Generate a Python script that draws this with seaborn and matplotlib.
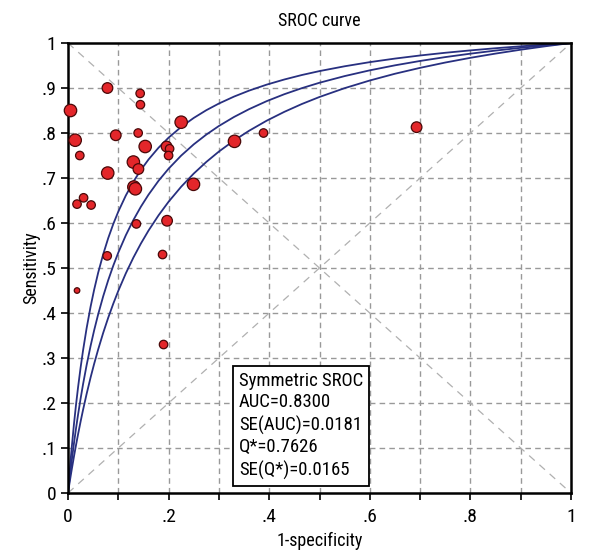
import numpy as np
import pandas as pd
import matplotlib
matplotlib.use('Agg')
import matplotlib.pyplot as plt
import seaborn as sns
from matplotlib import font_manager

# study points: 1-specificity, sensitivity, relative weight (marker size)
fpr = [0.005, 0.0785, 0.1435, 0.144, 0.0143, 0.095, 0.1395, 0.1535, 0.0235, 0.130,
       0.140, 0.079, 0.131, 0.134, 0.031, 0.225, 0.196, 0.202, 0.200, 0.2495,
       0.331, 0.3887, 0.693, 0.018, 0.046, 0.136, 0.078, 0.018, 0.197, 0.188, 0.190]
tpr = [0.850, 0.900, 0.888, 0.863, 0.784, 0.795, 0.800, 0.770, 0.750, 0.7355,
       0.720, 0.711, 0.680, 0.676, 0.656, 0.824, 0.770, 0.765, 0.750, 0.686,
       0.7815, 0.800, 0.813, 0.642, 0.640, 0.598, 0.527, 0.450, 0.605, 0.530, 0.330]
weight = [4, 3, 2, 2, 4, 3, 2, 4, 2, 4,
          3, 4, 4, 4, 2, 4, 3, 2, 2, 4,
          4, 2, 3, 2, 2, 2, 2, 1, 3, 2, 2]

# SROC curve and its bounds
curve_x = [0, .001, .003, .005, .007, .012, .016, .02, .025, .03, .037, .045, .052, .06,
           .07, .08, .09, .1, .115, .13, .145, .16, .18, .2, .225, .25, .275, .3, .33,
           .36, .395, .43, .465, .5, .55, .6, .65, .7, .75, .8, .85, .9, .95, 1]
curve_upper = [0, .0148, .0432, .0702, .0957, .1543, .1963, .2346, .2780, .3172, .3659,
               .4144, .4517, .4895, .5306, .5664, .5977, .6253, .6612, .6918, .7181,
               .7410, .7673, .7897, .8135, .8335, .8507, .8655, .8809, .8942, .9075,
               .9189, .9289, .9376, .9483, .9575, .9654, .9723, .9783, .9836, .9884,
               .9927, .9965, 1]
curve_mid = [0, .0102, .0301, .0493, .0678, .1114, .1437, .1740, .2092, .2420, .2839,
             .3272, .3615, .3971, .4372, .4730, .5051, .5342, .5728, .6066, .6364,
             .6628, .6938, .7207, .7498, .7748, .7965, .8156, .8356, .8530, .8708,
             .8862, .8997, .9117, .9265, .9393, .9504, .9601, .9687, .9763, .9832,
             .9893, .9949, 1]
curve_lower = [0, .0073, .0216, .0356, .0492, .0819, .1066, .1303, .1584, .1850, .2200,
               .2570, .2870, .3190, .3559, .3896, .4206, .4492, .4882, .5231, .5545,
               .5830, .6170, .6473, .6806, .7099, .7357, .7588, .7833, .8050, .8274,
               .8470, .8645, .8801, .8997, .9167, .9317, .9448, .9566, .9671, .9765,
               .9851, .9929, 1]

stats_text = ['Symmetric SROC', 'AUC=0.8300', 'SE(AUC)=0.0181', 'Q*=0.7626', 'SE(Q*)=0.0165']
y_ticks = [0, .1, .2, .3, .4, .5, .6, .7, .8, .9, 1]
y_labels = ['0', '.1', '.2', '.3', '.4', '.5', '.6', '.7', '.8', '.9', '1']
x_ticks = [0, .2, .4, .6, .8, 1]
x_labels = ['0', '.2', '.4', '.6', '.8', '1']

sns.set_style('white')
installed = {f.name for f in font_manager.fontManager.ttflist}
fams = [f for f in ['Liberation Sans Narrow', 'DejaVu Sans Condensed', 'Roboto Condensed']
        if f in installed] + ['DejaVu Sans']
plt.rcParams['font.family'] = fams
plt.rcParams['font.stretch'] = 'condensed'
plt.rcParams['text.color'] = 'black'
plt.rcParams['axes.labelcolor'] = 'black'

fig = plt.figure(figsize=(6, 5.6), dpi=100)
ax = fig.add_axes([0.1133, 0.1196, 0.8384, 0.8036])

# grid and diagonals
for g in np.arange(0.1, 1.0, 0.1):
    ax.axvline(g, color='#999999', lw=1, ls=(0, (4, 3)), zorder=0)
    ax.axhline(g, color='#999999', lw=1, ls=(0, (4, 3)), zorder=0)
ax.plot([0, 1], [0, 1], color='#b0b0b0', lw=0.9, ls=(0, (6, 5)), zorder=0)
ax.plot([0, 1], [1, 0], color='#b0b0b0', lw=0.9, ls=(0, (6, 5)), zorder=0)

n = len(curve_x)
curves = pd.DataFrame({'x': curve_x * 3,
                       'y': curve_upper + curve_mid + curve_lower,
                       'c': ['u'] * n + ['m'] * n + ['l'] * n})
sns.lineplot(data=curves, x='x', y='y', units='c', estimator=None, sort=False,
             color='#283080', lw=1.3, ax=ax)

pts = pd.DataFrame({'fpr': fpr, 'tpr': tpr, 'w': weight})
sns.scatterplot(data=pts, x='fpr', y='tpr', size='w', sizes=(16, 80), size_norm=(1, 4),
                color='#e3262a', edgecolor='#4a0808', linewidth=0.9, legend=False,
                ax=ax, zorder=5, clip_on=False)

ax.set_xlim(0, 1)
ax.set_ylim(0, 1)
ax.set_xticks(x_ticks)
ax.set_xticklabels(x_labels)
ax.set_xticks([.1, .3, .5, .7, .9], minor=True)
ax.set_yticks(y_ticks)
ax.set_yticklabels(y_labels)
ax.tick_params(axis='both', which='both', direction='out', length=5, width=1.2,
               colors='black', labelsize=14, bottom=True, left=True)
ax.tick_params(axis='x', pad=6)
for s in ax.spines.values():
    s.set_linewidth(1.8)
    s.set_color('black')

ax.set_xlabel('1-specificity', fontsize=13, labelpad=4)
ax.set_ylabel('Sensitivity', fontsize=13, labelpad=1)
ax.set_title('SROC curve', fontsize=13, pad=12)

ax.text(0.34, 0.270, '\n'.join(stats_text), fontsize=13.5, va='top', ha='left',
        linespacing=1.27, zorder=6,
        bbox=dict(boxstyle='square,pad=0.32', facecolor='white', edgecolor='black', lw=1.3))

fig.savefig('out.png', dpi=100)
